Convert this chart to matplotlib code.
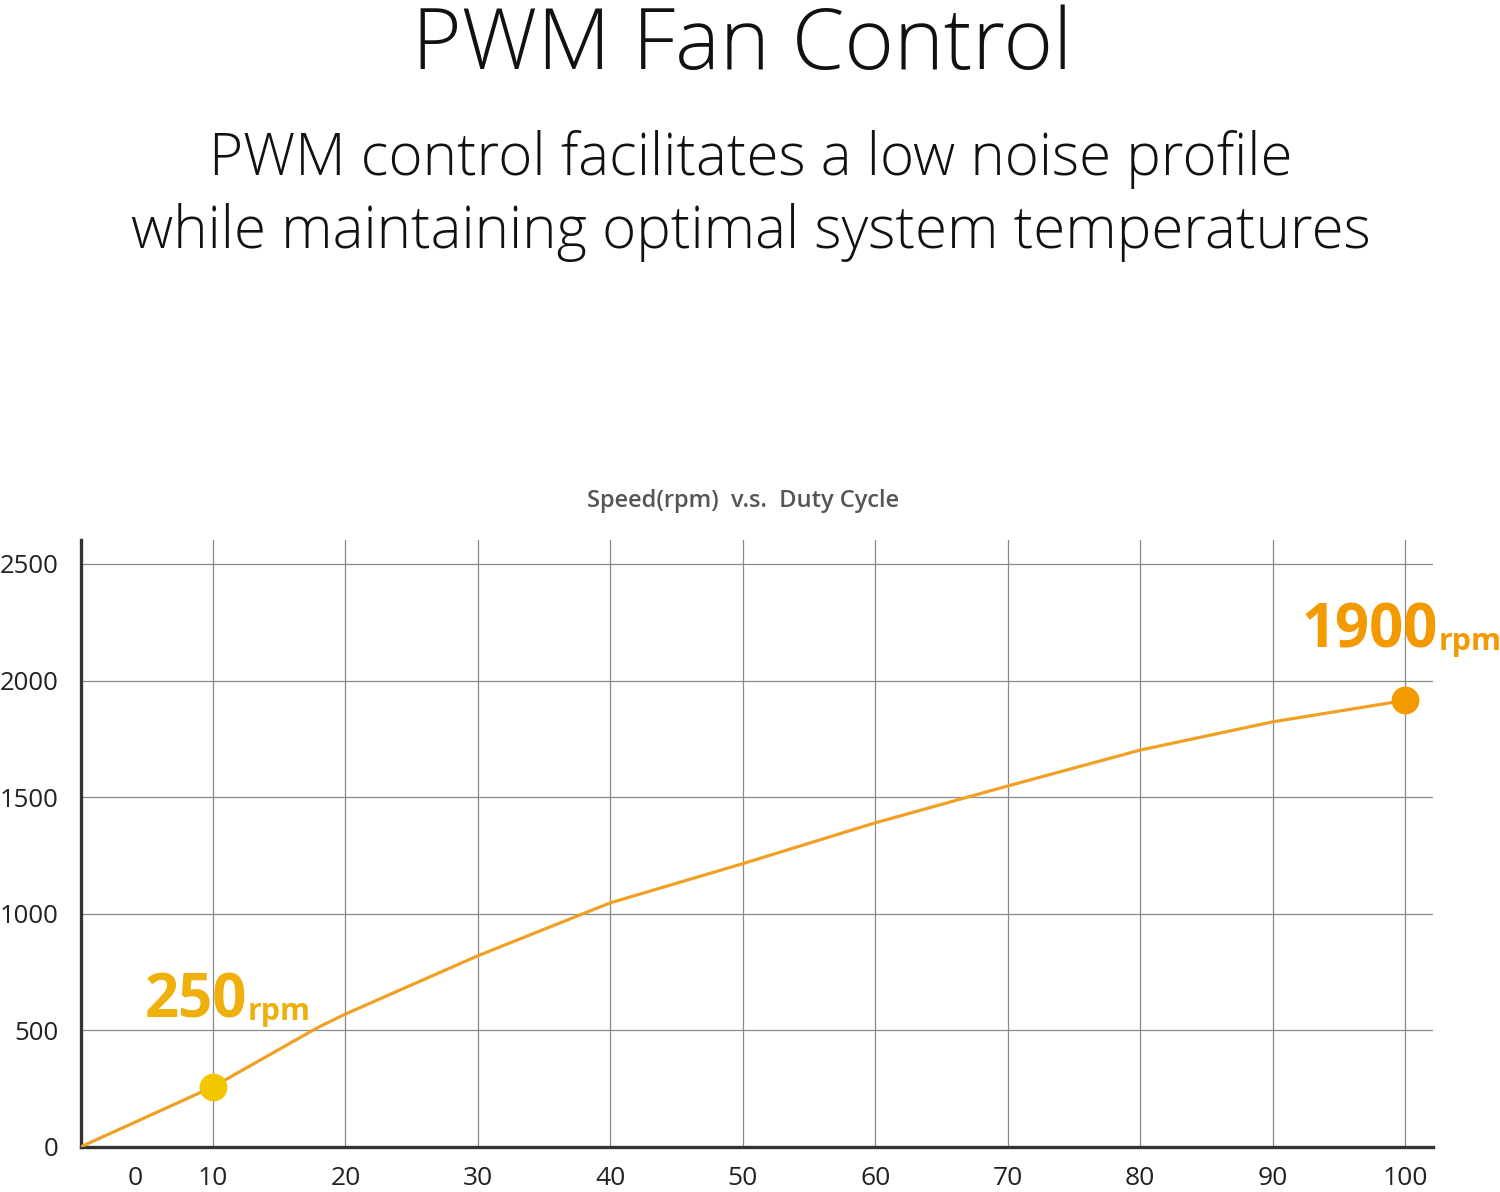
import matplotlib
matplotlib.use("Agg")
import matplotlib.pyplot as plt

# Speed vs duty cycle
duty = [0, 10, 18, 20, 30, 40, 50, 60, 70, 80, 90, 100]
speed = [0, 258, 515, 570, 820, 1047, 1215, 1390, 1548, 1702, 1823, 1915]

x_ticks = [4.1, 10, 20, 30, 40, 50, 60, 70, 80, 90, 100]
x_tick_labels = ['0', '10', '20', '30', '40', '50', '60', '70', '80', '90', '100']
x_grid = [10, 20, 30, 40, 50, 60, 70, 80, 90, 100]
y_ticks = [0, 500, 1000, 1500, 2000, 2500]

low_point = (10, 258)
high_point = (100, 1915)

LINE = '#EFA025'
LOW_DOT = '#F2C700'
LOW_TXT = '#F0B00C'
HIGH = '#F29A00'

plt.rcParams['font.family'] = ['Open Sans', 'DejaVu Sans']

fig = plt.figure(figsize=(15, 11.92), dpi=100)
ax = fig.add_axes([0.0537, 0.0378, 0.9016, 0.5092])

ax.plot(duty, speed, color=LINE, linewidth=2.3, solid_capstyle='round', zorder=3)
ax.plot(*low_point, 'o', color=LOW_DOT, markersize=19, zorder=4)
ax.plot(*high_point, 'o', color=HIGH, markersize=19, zorder=4)

ax.set_xlim(0, 102.1)
ax.set_ylim(0, 2603)
ax.set_xticks(x_ticks)
ax.set_xticklabels(x_tick_labels)
ax.set_yticks(y_ticks)
ax.tick_params(length=0, colors='#222222')
ax.tick_params(axis='x', pad=14, labelsize=19)
ax.tick_params(axis='y', pad=16, labelsize=18.5)

# vertical grid sits on the real decades, not on the shifted "0" label
ax.xaxis.remove_overlapping_locs = False
ax.set_xticks(x_grid, minor=True)
ax.tick_params(which='minor', length=0)
ax.xaxis.grid(False, which='major')
ax.xaxis.grid(True, which='minor', color='#8a8a8a', linewidth=0.9)
ax.yaxis.grid(True, color='#8a8a8a', linewidth=0.9)
ax.set_axisbelow(True)

for s in ['top', 'right']:
    ax.spines[s].set_visible(False)
for s in ['left', 'bottom']:
    ax.spines[s].set_color('#333333')
    ax.spines[s].set_linewidth(2.4)

ax.set_title('Speed(rpm)  v.s.  Duty Cycle', fontsize=17, fontweight='semibold',
             color='#555555', pad=24, x=0.49)

# value call-outs
t1 = ax.text(4.85, 555, '250', fontsize=43, fontweight='bold', color=LOW_TXT,
             va='baseline', ha='left')
ax.annotate('rpm', xy=(1, 0), xycoords=t1, xytext=(0, 4), textcoords='offset points',
            fontsize=22, fontweight='bold', color=LOW_TXT, va='bottom', ha='left')
t2 = ax.text(92.2, 2141, '1900', fontsize=43, fontweight='bold', color=HIGH,
             va='baseline', ha='left')
ax.annotate('rpm', xy=(1, 0), xycoords=t2, xytext=(0, 4), textcoords='offset points',
            fontsize=22, fontweight='bold', color=HIGH, va='bottom', ha='left',
            annotation_clip=False)

fig.text(0.495, 0.942, 'PWM Fan Control', fontsize=61, fontweight='light',
         color='#111111', ha='center', va='baseline')
fig.text(0.5007, 0.853, 'PWM control facilitates a low noise profile', fontsize=42,
         fontweight='light', color='#111111', ha='center', va='baseline')
fig.text(0.5007, 0.792, 'while maintaining optimal system temperatures', fontsize=42,
         fontweight='light', color='#111111', ha='center', va='baseline')

fig.savefig('out.png', dpi=100)
